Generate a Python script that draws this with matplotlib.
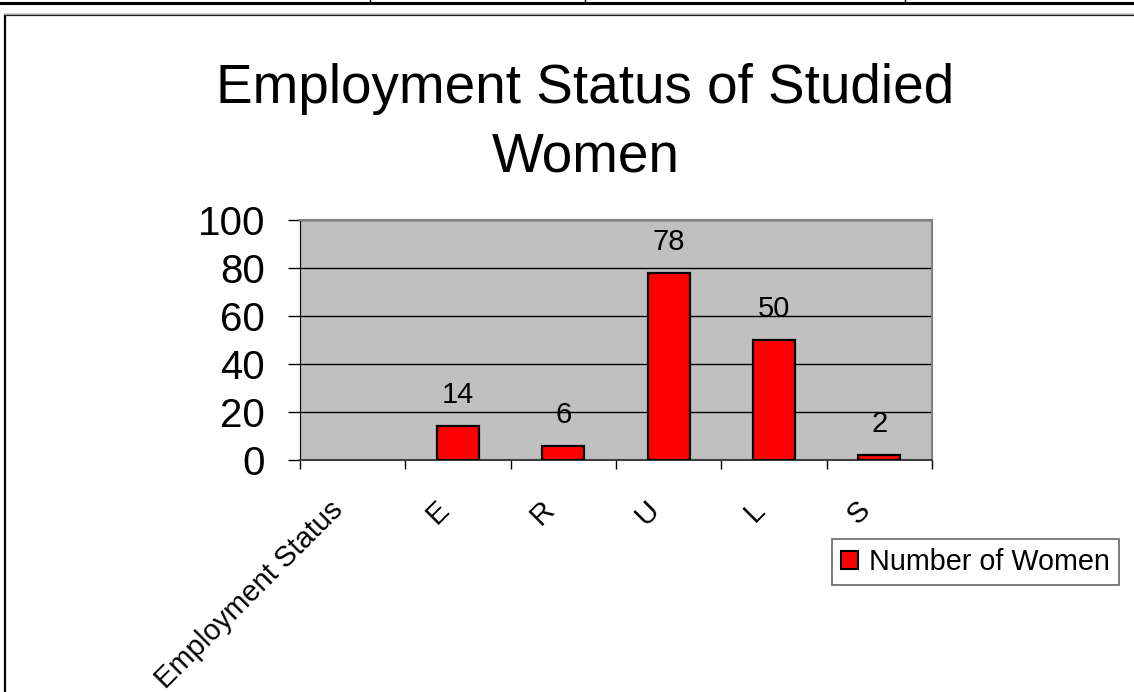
import numpy as np
import matplotlib
matplotlib.use("Agg")
import matplotlib.pyplot as plt
from matplotlib.patches import Patch, Rectangle
from matplotlib.lines import Line2D

plt.rcParams['font.family'] = ['Liberation Sans', 'DejaVu Sans']

# data
categories = ["Employment Status", "E", "R", "U", "L", "S"]
women = [np.nan, 14, 6, 78, 50, 2]
y_ticks = [0, 20, 40, 60, 80, 100]

fig = plt.figure(figsize=(11.34, 6.92), dpi=100)

# bits of the surrounding document: table rule on top, chart frame
fig.add_artist(Line2D([0, 1], [1 - 3 / 692, 1 - 3 / 692], color='black', lw=2.2))
for xv in [370, 585, 905]:
    fig.add_artist(Line2D([xv / 1134, xv / 1134], [1, 1 - 3 / 692], color='black', lw=1))
fig.add_artist(Line2D([4 / 1134, 1.01], [1 - 14 / 692, 1 - 14 / 692], color='#a0a0a0', lw=1))
fig.add_artist(Rectangle((4.5 / 1134, -0.05), 1.1, 1.05 - 15.5 / 692, fill=False,
                         edgecolor='black', lw=1.6, transform=fig.transFigure))

ax = fig.add_axes([300 / 1134, 1 - 460 / 692, 632 / 1134, 240 / 692])
ax.set_facecolor('#c0c0c0')

x = np.arange(len(categories))
bars = ax.bar(x, women, width=0.4, color='#ff0000', edgecolor='black', lw=1.6,
              label='Number of Women', zorder=3)

for xi, v in zip(x, women):
    if np.isnan(v):
        continue
    ax.annotate(f"{v:g}", (xi, v), xytext=(0, 16.5), textcoords='offset points',
                ha='center', va='baseline', fontsize=21, zorder=4)

ax.set_xlim(-0.5, len(categories) - 0.5)
ax.set_ylim(0, 100)
ax.set_yticks(y_ticks)
ax.yaxis.grid(True, color='black', lw=1)
ax.set_axisbelow(True)
ax.tick_params(axis='y', labelsize=29, length=9, width=1, pad=16, direction='out')

# tick marks between categories, labels near the centres (nudged left like Excel)
ax.set_xticks(np.arange(-0.5, len(categories), 1))
ax.set_xticklabels([])
ax.tick_params(axis='x', which='major', length=6.5, width=1)
ax.set_xticks(x - 0.076, categories, minor=True)
ax.tick_params(axis='x', which='minor', length=0, pad=37, labelsize=21)
plt.setp(ax.get_xticklabels(minor=True), rotation=45, ha='right', va='baseline',
         rotation_mode='anchor')

for s in ['top', 'right']:
    ax.spines[s].set_color('#808080')
    ax.spines[s].set_linewidth(1.5)
ax.spines['left'].set_color('black')
ax.spines['bottom'].set_color('#404040')
ax.spines['bottom'].set_linewidth(1.5)

fig.text(585.5 / 1134, 1 - 172 / 692, "Employment Status of Studied\nWomen",
         ha='center', va='baseline', fontsize=39.5, linespacing=1.42)

handle = Patch(facecolor='#ff0000', edgecolor='black', lw=1.5)
leg = fig.legend([handle], ['Number of Women'], loc='center',
                 bbox_to_anchor=(975.5 / 1134, 1 - 562 / 692), fontsize=20.7,
                 frameon=True, fancybox=False, handlelength=0.6, handleheight=0.6,
                 handletextpad=0.4, borderpad=0.3, borderaxespad=0)
leg.get_frame().set_edgecolor('#404040')
leg.get_frame().set_linewidth(1.2)

fig.savefig('out.png', dpi=100)
